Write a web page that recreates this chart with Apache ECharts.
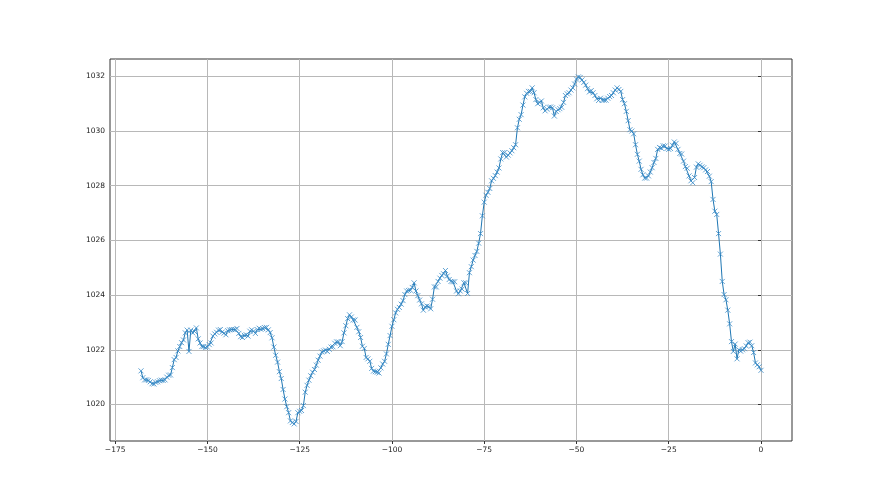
<!DOCTYPE html>
<html>
<head>
<meta charset="utf-8">
<script src="https://cdn.jsdelivr.net/npm/echarts@6/dist/echarts.min.js"></script>
<style>
  html, body { margin: 0; padding: 0; background: #fff; }
  #chart { width: 880px; height: 495px; }
</style>
</head>
<body>
<div id="chart"></div>
<script>
// readings every half hour, from -168 h up to 0 h
const startHour = -168
const stepHour = 0.5

const pressure = [
  // -168 .. -163.5
  1021.23, 1020.98, 1020.9, 1020.9, 1020.88, 1020.83, 1020.76, 1020.75, 1020.81, 1020.83,
  // -163 .. -158.5
  1020.87, 1020.89, 1020.88, 1020.9, 1021.0, 1021.07, 1021.08, 1021.35, 1021.64, 1021.72,
  // -158 .. -153.5
  1021.96, 1022.12, 1022.26, 1022.36, 1022.62, 1022.72, 1021.94, 1022.72, 1022.62, 1022.67,
  // -153 .. -148.5
  1022.8, 1022.4, 1022.25, 1022.12, 1022.12, 1022.08, 1022.1, 1022.19, 1022.25, 1022.5,
  // -148 .. -143.5
  1022.58, 1022.64, 1022.72, 1022.74, 1022.65, 1022.61, 1022.55, 1022.7, 1022.73, 1022.74,
  // -143 .. -138.5
  1022.74, 1022.74, 1022.78, 1022.6, 1022.48, 1022.45, 1022.53, 1022.55, 1022.5, 1022.68,
  // -138 .. -133.5
  1022.73, 1022.68, 1022.6, 1022.74, 1022.79, 1022.75, 1022.77, 1022.81, 1022.82, 1022.73,
  // -133 .. -128.5
  1022.63, 1022.44, 1022.1, 1021.8, 1021.55, 1021.2, 1020.95, 1020.55, 1020.2, 1019.92,
  // -128 .. -123.5
  1019.7, 1019.4, 1019.34, 1019.29, 1019.38, 1019.7, 1019.75, 1019.78, 1019.96, 1020.45,
  // -123 .. -118.5
  1020.7, 1020.89, 1021.05, 1021.18, 1021.28, 1021.44, 1021.62, 1021.77, 1021.92, 1021.96,
  // -118 .. -113.5
  1021.99, 1021.94, 1022.02, 1022.1, 1022.11, 1022.24, 1022.29, 1022.29, 1022.15, 1022.3,
  // -113 .. -108.5
  1022.62, 1022.88, 1023.14, 1023.28, 1023.2, 1023.09, 1023.09, 1022.82, 1022.66, 1022.45,
  // -108 .. -103.5
  1022.13, 1022.05, 1021.72, 1021.67, 1021.58, 1021.32, 1021.22, 1021.2, 1021.18, 1021.15,
  // -103 .. -98.5
  1021.34, 1021.48, 1021.58, 1021.85, 1022.2, 1022.52, 1022.86, 1023.1, 1023.35, 1023.48,
  // -98 .. -93.5
  1023.55, 1023.67, 1023.8, 1024.02, 1024.15, 1024.17, 1024.18, 1024.28, 1024.45, 1024.15,
  // -93 .. -88.5
  1023.98, 1023.82, 1023.68, 1023.45, 1023.57, 1023.6, 1023.58, 1023.5, 1023.85, 1024.3,
  // -88 .. -83.5
  1024.3, 1024.5, 1024.62, 1024.72, 1024.78, 1024.9, 1024.7, 1024.57, 1024.5, 1024.49,
  // -83 .. -78.5
  1024.49, 1024.15, 1024.05, 1024.15, 1024.22, 1024.45, 1024.45, 1024.06, 1024.82, 1025.04,
  // -78 .. -73.5
  1025.28, 1025.45, 1025.6, 1025.9, 1026.25, 1026.9, 1027.4, 1027.65, 1027.76, 1027.9,
  // -73 .. -68.5
  1028.18, 1028.27, 1028.37, 1028.5, 1028.65, 1028.98, 1029.21, 1029.21, 1029.05, 1029.12,
  // -68 .. -63.5
  1029.2, 1029.28, 1029.39, 1029.5, 1030.12, 1030.43, 1030.6, 1030.95, 1031.25, 1031.38,
  // -63 .. -58.5
  1031.45, 1031.45, 1031.58, 1031.4, 1031.15, 1031.0, 1031.05, 1031.1, 1030.85, 1030.74,
  // -58 .. -53.5
  1030.8, 1030.87, 1030.88, 1030.85, 1030.55, 1030.72, 1030.78, 1030.82, 1030.87, 1031.05,
  // -53 .. -48.5
  1031.3, 1031.36, 1031.4, 1031.5, 1031.58, 1031.72, 1031.9, 1031.98, 1031.96, 1031.87,
  // -48 .. -43.5
  1031.78, 1031.68, 1031.55, 1031.43, 1031.48, 1031.4, 1031.3, 1031.18, 1031.12, 1031.2,
  // -43 .. -38.5
  1031.13, 1031.13, 1031.13, 1031.2, 1031.26, 1031.3, 1031.4, 1031.5, 1031.58, 1031.52,
  // -38 .. -33.5
  1031.45, 1031.15, 1031.0, 1030.72, 1030.38, 1030.05, 1030.0, 1029.9, 1029.5, 1029.15,
  // -33 .. -28.5
  1028.9, 1028.6, 1028.4, 1028.28, 1028.28, 1028.36, 1028.5, 1028.66, 1028.85, 1029.0,
  // -28 .. -23.5
  1029.33, 1029.4, 1029.37, 1029.46, 1029.45, 1029.36, 1029.33, 1029.36, 1029.48, 1029.6,
  // -23 .. -18.5
  1029.55, 1029.33, 1029.18, 1029.16, 1028.9, 1028.7, 1028.64, 1028.36, 1028.18, 1028.11,
  // -18 .. -13.5
  1028.3, 1028.68, 1028.8, 1028.75, 1028.69, 1028.66, 1028.58, 1028.52, 1028.35, 1028.15,
  // -13 .. -8.5
  1027.5, 1027.07, 1026.95, 1026.25, 1025.5, 1024.5, 1024.02, 1023.83, 1023.45, 1022.95,
  // -8 .. -3.5
  1022.3, 1021.94, 1022.21, 1021.67, 1022.0, 1021.95, 1022.0, 1022.04, 1022.14, 1022.26,
  // -3 .. 0
  1022.28, 1022.15, 1021.9, 1021.52, 1021.45, 1021.38, 1021.25
]

const xTicks = [-175, -150, -125, -100, -75, -50, -25, 0]
const yTicks = [1020, 1022, 1024, 1026, 1028, 1030, 1032]

const points = pressure.map((v, i) => [startHour + i * stepHour, v])

const chart = echarts.init(document.getElementById('chart'))

const labelStyle = { color: '#222', fontFamily: 'DejaVu Sans', fontSize: 7.5 }

chart.setOption({
  animation: false,
  backgroundColor: '#fff',
  grid: {
    left: 110, right: 88, top: 59, bottom: 54,
    show: true, borderColor: '#333', borderWidth: 1, backgroundColor: 'transparent'
  },
  xAxis: {
    type: 'value',
    min: -176.4,
    max: 8.4,
    axisLine: { show: false },
    axisTick: { show: true, length: 3, customValues: xTicks, lineStyle: { color: '#333' } },
    axisLabel: {
      ...labelStyle,
      margin: 5,
      customValues: xTicks,
      formatter: v => String(v).replace('-', '\u2212')
    },
    splitLine: { show: true, lineStyle: { color: '#b8b8b8', width: 1 } }
  },
  yAxis: {
    type: 'value',
    min: 1018.665,
    max: 1032.635,
    axisLine: { show: false },
    axisTick: { show: true, length: 3, customValues: yTicks, lineStyle: { color: '#333' } },
    axisLabel: { ...labelStyle, margin: 5, customValues: yTicks, formatter: v => String(v) },
    splitLine: { show: true, lineStyle: { color: '#b8b8b8', width: 1 } }
  },
  series: [
    {
      type: 'line',
      data: points,
      symbol: 'path://M0,0L10,10M10,0L0,10',
      symbolSize: 5,
      showSymbol: true,
      lineStyle: { color: '#1f77b4', width: 1 },
      itemStyle: { color: 'rgba(0,0,0,0)', borderColor: '#3a8cc8', borderWidth: 0.8 },
      emphasis: { disabled: true }
    }
  ]
})
</script>
</body>
</html>
